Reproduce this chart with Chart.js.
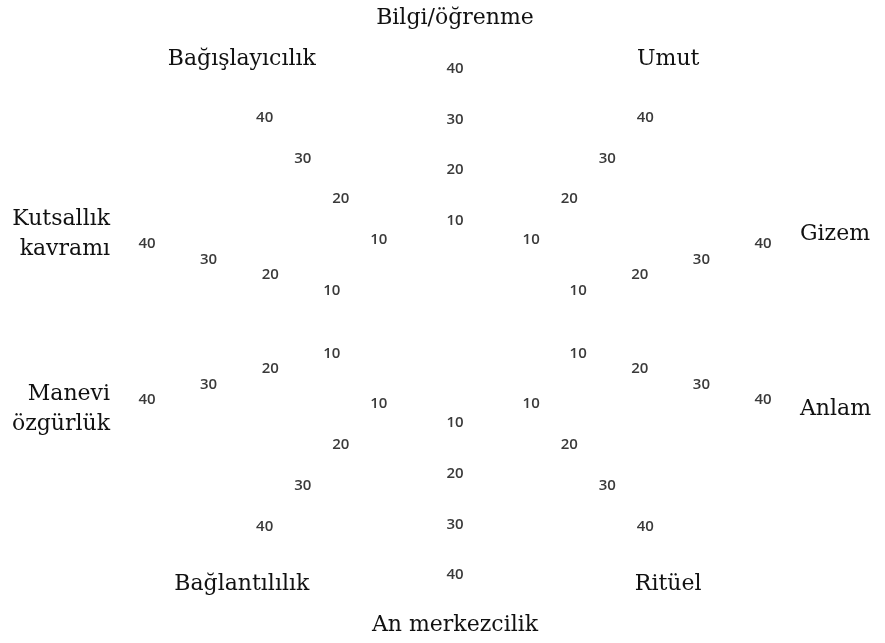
<!DOCTYPE html>
<html>
<head>
<meta charset="utf-8">
<script src="https://cdn.jsdelivr.net/npm/chart.js@4"></script>
<style>
  html, body { margin: 0; padding: 0; background: #fff; }
  #wrap { width: 885px; height: 643px; }
</style>
</head>
<body>
<div id="wrap"><canvas id="radar" width="885" height="643"></canvas></div>
<script>
// eksen adlari (saat yonunde, ustten baslayarak)
const labels = [
  'Bilgi/öğrenme', 'Umut', 'Gizem', 'Anlam', 'Ritüel',
  'An merkezcilik', 'Bağlantılılık', ['Manevi', 'özgürlük'],
  ['Kutsallık', 'kavramı'], 'Bağışlayıcılık'
];
// her eksende yazilan olcek degerleri
const tickValues = [10, 20, 30, 40];
const scaleMin = -10;
const scaleMax = 40;
const labelValue = 46;   // eksen adlarinin yazildigi yer (olcek biriminde)
const xStretch = 1.28;   // sekil yatayda biraz genis

// her eksene etiket yazan eklenti
const spokeText = {
  id: 'spokeText',
  afterDraw(chart) {
    const ctx = chart.ctx;
    const sc = chart.scales.r;
    const cx = sc.xCenter, cy = sc.yCenter;
    const pos = (i, v) => {
      const p = sc.getPointPositionForValue(i, v);
      return { x: cx + (p.x - cx) * xStretch, y: p.y };
    };
    ctx.save();

    // olcek degerleri
    ctx.font = '600 15px "Open Sans"';
    ctx.fillStyle = '#3a3a3a';
    ctx.textAlign = 'center';
    ctx.textBaseline = 'middle';
    labels.forEach((_, i) => {
      tickValues.forEach(v => {
        const p = pos(i, v);
        ctx.fillText(String(v), p.x, p.y);
      });
    });

    // eksen adlari
    ctx.font = '22px "DejaVu Serif"';
    ctx.fillStyle = '#111';
    const lineH = 30;
    labels.forEach((lab, i) => {
      const lines = Array.isArray(lab) ? lab : [lab];
      const p = pos(i, labelValue);
      const dx = p.x - cx, dy = p.y - cy;
      let y = p.y - (lines.length - 1) * lineH / 2;
      if (Math.abs(dx) < 5) {
        ctx.textAlign = 'center';
        y += dy > 0 ? 20 : -20;
      } else if (Math.abs(dy) > 150) {
        // capraz eksenler
        ctx.textAlign = 'center';
        y += dy > 0 ? 33 : -33;
      } else {
        ctx.textAlign = dx > 0 ? 'left' : 'right';
      }
      lines.forEach((t, k) => ctx.fillText(t, p.x, y + k * lineH));
    });
    ctx.restore();
  }
};

const ctx = document.getElementById('radar').getContext('2d');
const chart = new Chart(ctx, {
  type: 'radar',
  data: {
    labels: labels,
    datasets: []
  },
  options: {
    responsive: false,
    animation: false,
    layout: { padding: { top: 69, bottom: 68, left: 202, right: 177 } },
    plugins: { legend: { display: false }, tooltip: { enabled: false } },
    scales: {
      r: {
        min: scaleMin,
        max: scaleMax,
        ticks: { display: false, stepSize: 10 },
        grid: { display: false },
        angleLines: { display: false },
        pointLabels: { display: false }
      }
    }
  },
  plugins: [spokeText]
});
</script>
</body>
</html>
